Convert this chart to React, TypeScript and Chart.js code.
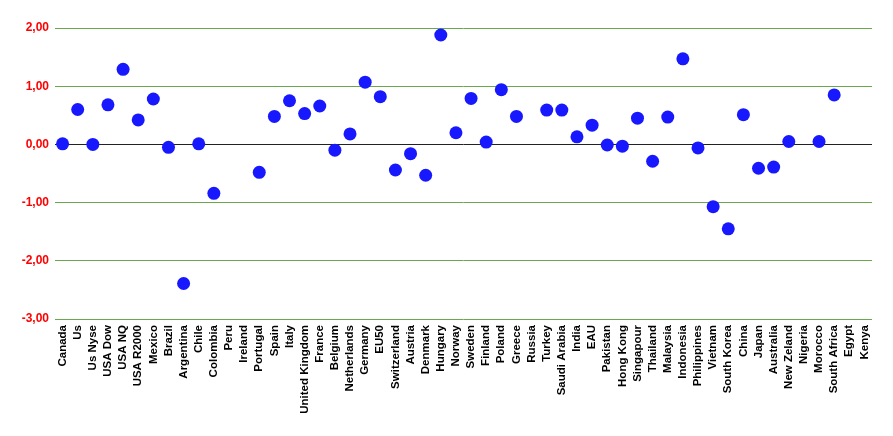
import React, { useEffect, useRef } from "react";
import { Chart, registerables } from "chart.js";

Chart.register(...registerables);

const categories = [
  "Canada", "Us", "Us Nyse", "USA Dow", "USA NQ", "USA R2000", "Mexico", "Brazil", "Argentina", "Chile",
  "Colombia", "Peru", "Ireland", "Portugal", "Spain", "Italy", "United Kingdom", "France", "Belgium", "Netherlands",
  "Germany", "EU50", "Switzerland", "Austria", "Denmark", "Hungary", "Norway", "Sweden", "Finland", "Poland",
  "Greece", "Russia", "Turkey", "Saudi Arabia", "India", "EAU", "Pakistan", "Hong Kong", "Singapour", "Thailand",
  "Malaysia", "Indonesia", "Philippines", "Vietnam", "South Korea", "China", "Japan", "Australia", "New Zeland", "Nigeria",
  "Morocco", "South Africa", "Egypt", "Kenya",
];

const values: (number | null)[] = [
  0.01, 0.60, 0.00, 0.68, 1.29, 0.42, 0.78, -0.05, -2.39, 0.01,
  -0.84, null, null, -0.48, 0.48, 0.75, 0.53, 0.66, -0.10, 0.18,
  1.07, 0.82, -0.44, -0.16, -0.53, 1.88, 0.20, 0.79, 0.04, 0.94,
  0.48, null, 0.59, 0.59, 0.13, 0.33, -0.01, -0.03, 0.45, -0.29,
  0.47, 1.47, -0.06, -1.07, -1.45, 0.51, -0.41, -0.39, 0.05, null,
  0.05, 0.85, null, null,
];

const yMin = -3;
const yMax = 2;

export default function App() {
  const ref = useRef<HTMLCanvasElement>(null);
  useEffect(() => {
    if (!ref.current) return;
    const chart = new Chart(ref.current, {
      type: "line",
      data: {
        labels: categories,
        datasets: [
          {
            data: values,
            showLine: false,
            pointRadius: 6.5,
            pointHoverRadius: 6.5,
            pointBorderWidth: 0,
            pointBackgroundColor: "rgb(24,24,255)",
            pointBorderColor: "rgb(24,24,255)",
          },
        ],
      },
      options: {
        animation: false,
        responsive: false,
        maintainAspectRatio: false,
        layout: { padding: { top: 28, right: 21, left: 0, bottom: 0 } },
        plugins: { legend: { display: false }, tooltip: { enabled: false } },
        scales: {
          x: {
            type: "category",
            offset: true,
            grid: { display: false, drawTicks: false },
            border: { display: false },
            ticks: {
              autoSkip: false,
              minRotation: 90,
              maxRotation: 90,
              padding: 6,
              color: "#000",
              font: { family: "Liberation Sans, Arial, sans-serif", size: 11.5, weight: "bold" },
            },
            afterFit: (s: any) => {
              s.height = 117;
            },
          },
          y: {
            min: yMin,
            max: yMax,
            grid: {
              drawTicks: false,
              color: (ctx: any) => (ctx.tick && ctx.tick.value === 0 ? "#222222" : "#6aa84f"),
              lineWidth: 1,
            },
            border: { display: false },
            ticks: {
              stepSize: 1,
              padding: 6,
              color: "#ff0000",
              font: { family: "Liberation Sans, Arial, sans-serif", size: 12, weight: "bold" },
              callback: (v: any) => Number(v).toFixed(2).replace(".", ","),
            },
            afterFit: (s: any) => {
              s.width = 55;
            },
          },
        },
      },
    });
    return () => chart.destroy();
  }, []);
  return (
    <div style={{ position: "fixed", left: 0, top: 0, width: 893, height: 436, background: "#fff" }}>
      <canvas ref={ref} width={893} height={436} style={{ width: 893, height: 436 }} />
    </div>
  );
}
